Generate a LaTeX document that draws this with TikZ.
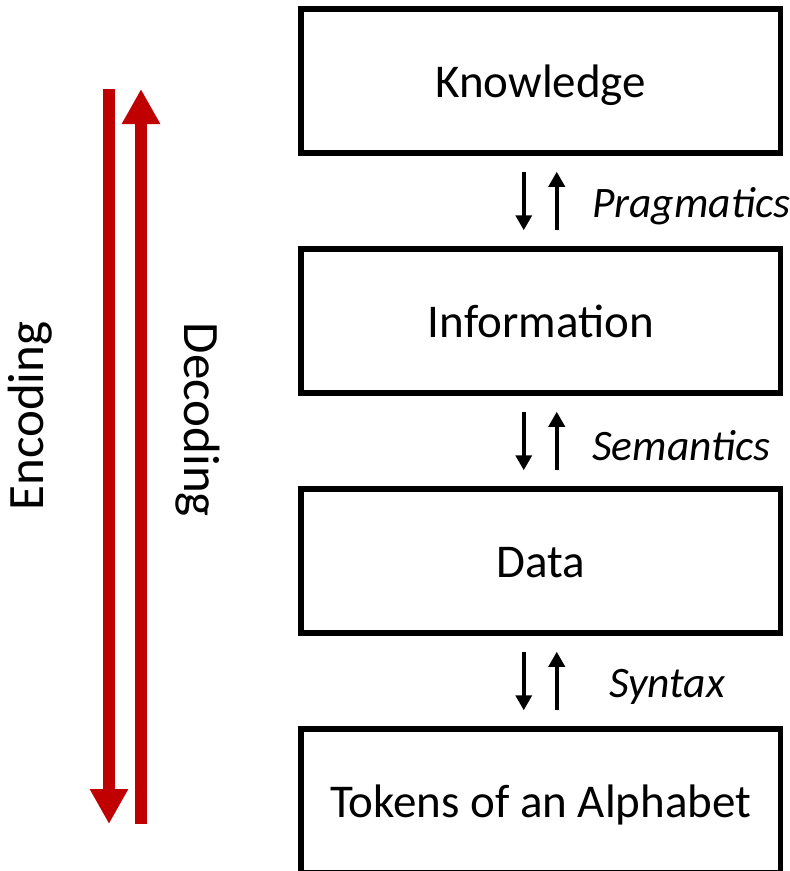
\documentclass[tikz,border=0pt]{standalone}
\usepackage{fontspec}
\setmainfont{Carlito}
\usetikzlibrary{arrows.meta}
\definecolor{flowred}{HTML}{C00000}
\begin{document}
\begin{tikzpicture}[x=1pt,y=-1pt,
  layer/.style={draw=black,line width=5.5pt,minimum width=479.5pt,minimum height=144pt,
    inner sep=0pt,text height=33pt,text depth=0pt,font=\fontsize{47}{56}\selectfont},
  flow/.style={line width=3.5pt,-{Triangle[length=15pt,width=16pt]}},
  bigflow/.style={draw=flowred,line width=12pt,-{Triangle[length=35pt,width=36pt]}},
  steplabel/.style={anchor=west,inner sep=0pt,font=\fontsize{43.5}{52}\selectfont\itshape},
  sidelabel/.style={inner sep=0pt,font=\fontsize{51}{60}\selectfont}]
\useasboundingbox (0,0) rectangle (790,871);
\begin{scope}
\clip (0,0) rectangle (790,871);
% the four layers
\node[layer] (know) at (540.75,81) {Knowledge};
\node[layer] (info) at (540.75,321) {Information};
\node[layer] (data) at (540.75,561) {Data};
\node[layer] (tok)  at (540.75,801) {Tokens of an Alphabet};
\end{scope}

% arrow pairs between neighbouring layers
\foreach \a/\b/\t in {know/info/k, info/data/i, data/tok/d}{
  \coordinate (\t dn1) at ([xshift=-17pt,yshift=-16pt]\a.south);
  \coordinate (\t dn2) at ([xshift=-17pt,yshift=16pt]\b.north);
  \coordinate (\t up1) at ([xshift=16pt,yshift=16pt]\b.north);
  \coordinate (\t up2) at ([xshift=16pt,yshift=-16pt]\a.south);
  \draw[flow] (\t dn1) -- (\t dn2);
  \draw[flow] (\t up1) -- (\t up2);
}

\node[steplabel] (prag) at (592,206) {Pragmatics};
\node[steplabel] (sem)  at (592,446) {Semantics};
\node[steplabel] (syn)  at (609,687) {Syntax};

% encoding / decoding arrows
\coordinate (enctop) at (109,89);
\coordinate (encbot) at (109,824);
\coordinate (dectop) at (141,89);
\coordinate (decbot) at (141,824);
\draw[bigflow] (enctop) -- (encbot);
\draw[bigflow] (decbot) -- (dectop);

\node[sidelabel,rotate=90]  (enc) at (30,416) {Encoding};
\node[sidelabel,rotate=-90] (dec) at (198,420) {Decoding};
\end{tikzpicture}
\end{document}
